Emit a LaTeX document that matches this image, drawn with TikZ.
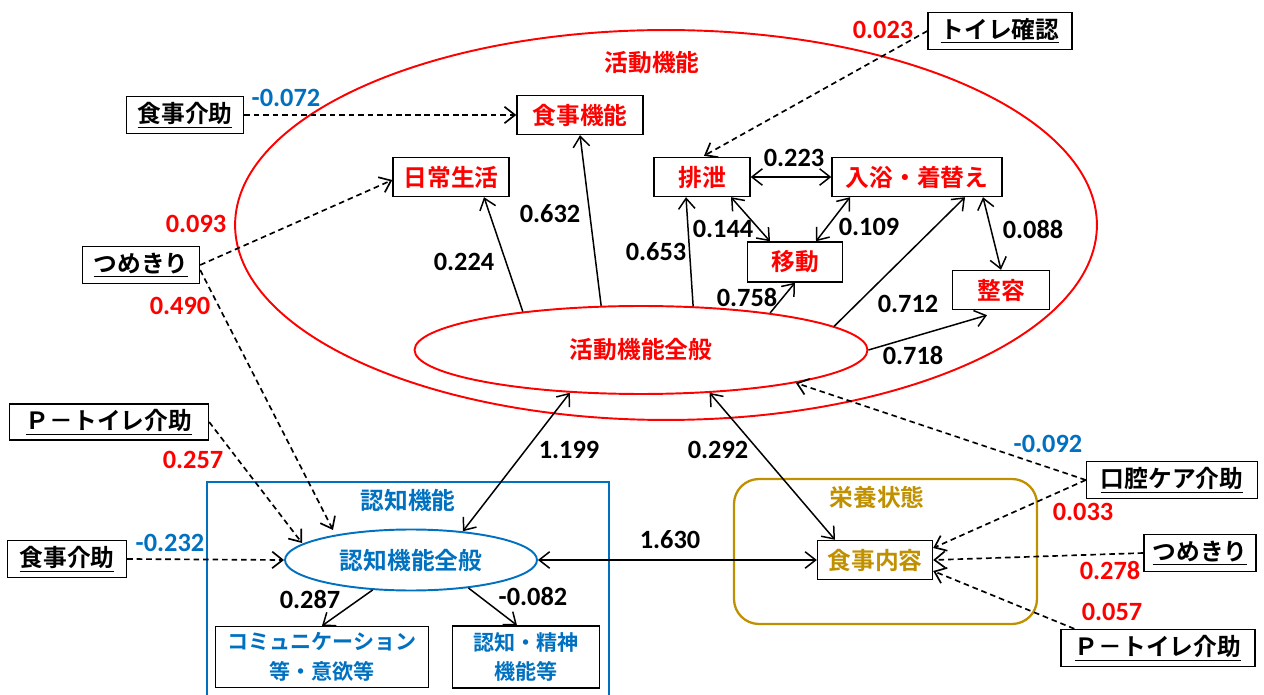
\documentclass[tikz,border=0pt]{standalone}
\usepackage{fontspec}
\usetikzlibrary{arrows.meta,shapes.geometric}
\newfontfamily\jp{Noto Sans CJK JP Bold}
\newfontfamily\nm{Carlito}
\definecolor{cred}{HTML}{FF0000}
\definecolor{cblue}{HTML}{0070C0}
\definecolor{cgold}{HTML}{BF9000}
\tikzset{
  bx/.style={draw, line width=0.8pt, inner sep=0pt, minimum height=0.78cm, font=\jp\fontsize{13.5}{15}\selectfont},
  actbox/.style={bx, text=cred},
  extbox/.style={bx, minimum height=0.75cm},
  num/.style={inner sep=0pt, font=\nm\bfseries\fontsize{15}{17}\selectfont},
  tip/.tip={Straight Barb[length=2.1mm,width=3.3mm]},
  arr/.style={-tip, line width=0.85pt},
  darr/.style={tip-tip, line width=0.85pt},
  dsh/.style={-tip, line width=0.95pt, dash pattern=on 3.2pt off 2.2pt},
}
\begin{document}
\begin{tikzpicture}[x=0.02cm,y=-0.02cm]
\useasboundingbox (0,0) rectangle (1264,695);
% outer ellipse (activity function)
\draw[cred, line width=1.1pt] (666,225) ellipse [x radius=8.62cm, y radius=3.9cm];
\node[text=cred, font=\jp\fontsize{13.5}{15}\selectfont] (actlbl) at (652,63) {活動機能};
% cognitive box
\draw[cblue, line width=1.1pt] (207,720) -- (207,482) -- (609,482) -- (609,720);
\node[text=cblue, font=\jp\fontsize{13.5}{15}\selectfont] (coglbl) at (408,500) {認知機能};
% nutrition box
\draw[cgold, line width=1.3pt, rounded corners=0.5cm] (734,479) rectangle (1037,624);
\node[text=cgold, font=\jp\fontsize{13.5}{15}\selectfont] (nutlbl) at (877,497) {栄養状態};

% latent ellipses
\node[ellipse, draw=cred, line width=1.1pt, minimum width=9.06cm, minimum height=1.76cm, inner sep=0pt, text=cred, font=\jp\fontsize{13.5}{15}\selectfont] (act) at (641,350) {活動機能全般};
\node[ellipse, draw=cblue, line width=1.1pt, minimum width=5.04cm, minimum height=1.22cm, inner sep=0pt, text=cblue, font=\jp\fontsize{13.5}{15}\selectfont] (cog) at (411,560) {認知機能全般};

% activity items
\node[actbox, minimum width=2.52cm] (fn) at (580,115) {食事機能};
\node[actbox, minimum width=2.32cm] (dl) at (451,177) {日常生活};
\node[actbox, minimum width=1.92cm] (hs) at (702,177) {排泄};
\node[actbox, minimum width=3.40cm] (ny) at (917,177) {入浴・着替え};
\node[actbox, minimum width=1.90cm, minimum height=0.8cm] (id) at (795,262) {移動};
\node[actbox, minimum width=1.94cm] (sy) at (1001,290) {整容};

% cognitive items
\node[bx, text=cblue, minimum width=4.26cm, minimum height=1.22cm, align=center, font=\jp\fontsize{12}{17}\selectfont] (cm) at (322,657) {コミュニケーション\\等・意欲等};
\node[bx, text=cblue, minimum width=2.94cm, minimum height=1.24cm, align=center, font=\jp\fontsize{12}{17}\selectfont] (ss) at (526,657) {認知・精神\\機能等};

% nutrition item
\node[bx, text=cgold, minimum width=2.30cm] (nt) at (875,560) {食事内容};

% external factors
\node[extbox, minimum width=2.88cm] (tc) at (1000,31) {\underline{トイレ確認}};
\node[extbox, minimum width=2.34cm] (ka1) at (185,115) {\underline{食事介助}};
\node[extbox, minimum width=2.34cm] (tm1) at (141,265) {\underline{つめきり}};
\node[extbox, minimum width=3.98cm, minimum height=0.72cm] (pt1) at (109,422) {\underline{Ｐ－トイレ介助}};
\node[extbox, minimum width=2.38cm] (ka2) at (67,559) {\underline{食事介助}};
\node[extbox, minimum width=3.42cm, minimum height=0.74cm] (oc) at (1172,480) {\underline{口腔ケア介助}};
\node[extbox, minimum width=2.24cm, minimum height=0.74cm] (tm2) at (1200,553) {\underline{つめきり}};
\node[extbox, minimum width=3.88cm, minimum height=0.74cm] (pt2) at (1158,648) {\underline{Ｐ－トイレ介助}};

% structural arrows
\draw[arr] (act.162) -- ([shift={(33,0)}]dl.south);
\draw[arr] (act.132) -- (fn.south);
\draw[arr] (act.40) -- ([shift={(-16,0)}]hs.south);
\draw[arr] (act.16) -- (id.south);
\draw[arr] (act.7) -- ([shift={(48,0)}]ny.south);
\draw[arr] (act.0) -- ([shift={(-14,5)}]sy.south);
\draw[darr] (hs.east) -- (ny.west);
\draw[darr] ([shift={(29,0)}]hs.south) -- ([shift={(-25,0)}]id.north);
\draw[darr] ([shift={(-67,0)}]ny.south) -- ([shift={(21,0)}]id.north);
\draw[darr] ([shift={(66,0)}]ny.south) -- (sy.north);
\draw[darr] (cog.29) -- (act.211);
\draw[darr] (act.328) -- ([shift={(-40,0)}]nt.north);
\draw[darr] (cog.east) -- (nt.west);
\draw[arr] (cog.218) -- (cm.north);
\draw[arr] (cog.334) -- ([shift={(-9,0)}]ss.north);

% external (dashed) arrows
\draw[dsh] (ka1.east) -- (fn.west);
\draw[dsh] (tm1.east) -- ([shift={(0,3)}]dl.west);
\draw[dsh] ([shift={(0,5)}]tm1.east) -- ([shift={(-78,-30)}]cog.center);
\draw[dsh] (pt1.east) -- ([shift={(-109,-17)}]cog.center);
\draw[dsh] (ka2.east) -- (cog.west);
\draw[dsh] (tc.west) -- ([shift={(2,-1)}]hs.north);
\draw[dsh] (oc.west) -- (act.348);
\draw[dsh] (oc.west) -- ([shift={(0,-12)}]nt.east);
\draw[dsh] (tm2.west) -- (nt.east);
\draw[dsh] ([shift={(14,0)}]pt2.north west) -- ([shift={(0,11)}]nt.east);

% coefficients
\node[num, text=cred] (l1) at (883,30) {0.023};
\node[num, text=cblue] (l2) at (286,98) {-0.072};
\node[num, text=cred] (l3) at (196,224) {0.093};
\node[num, text=cred] (l4) at (180,306) {0.490};
\node[num] (l5) at (464,262) {0.224};
\node[num] (l6) at (550,214) {0.632};
\node[num] (l7) at (656,252) {0.653};
\node[num] (l8) at (794,158) {0.223};
\node[num] (l9) at (723,229) {0.144};
\node[num] (l10) at (869,227) {0.109};
\node[num] (l11) at (1033,230) {0.088};
\node[num] (l12) at (747,298) {0.758};
\node[num] (l13) at (908,304) {0.712};
\node[num] (l14) at (913,355) {0.718};
\node[num, text=cred] (l15) at (193,460) {0.257};
\node[num, text=cblue] (l16) at (170,543) {-0.232};
\node[num] (l17) at (569,450) {1.199};
\node[num] (l18) at (718,450) {0.292};
\node[num] (l19) at (670,540) {1.630};
\node[num] (l20) at (310,599) {0.287};
\node[num] (l21) at (533,596) {-0.082};
\node[num, text=cblue] (l22) at (1048,444) {-0.092};
\node[num, text=cred] (l23) at (1083,512) {0.033};
\node[num, text=cred] (l24) at (1110,570) {0.278};
\node[num, text=cred] (l25) at (1112,612) {0.057};
\end{tikzpicture}
\end{document}
